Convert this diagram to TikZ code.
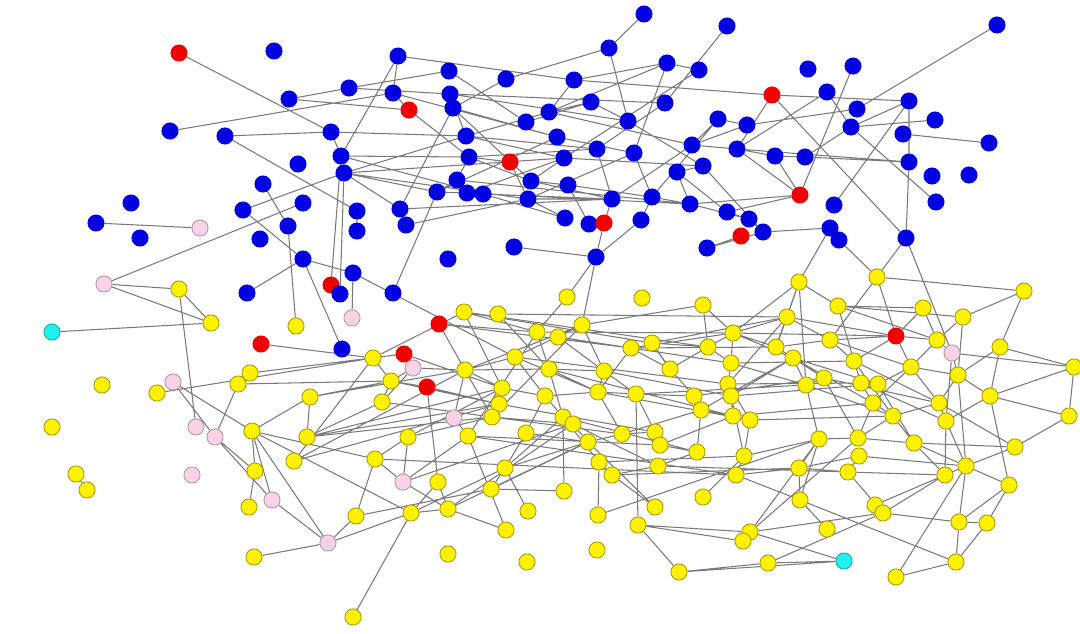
\documentclass[tikz,border=0pt]{standalone}
\usepackage{xcolor}
\usepackage{tikz}
\usetikzlibrary{backgrounds}
\definecolor{blueNode}{HTML}{0000E0}
\definecolor{redNode}{HTML}{F00000}
\definecolor{yellowNode}{HTML}{FFF200}
\definecolor{yellowEdge}{HTML}{A89A00}
\definecolor{pinkNode}{HTML}{F9D2E8}
\definecolor{pinkEdge}{HTML}{A89AA2}
\definecolor{cyanNode}{HTML}{20F0F0}
\definecolor{linkGray}{HTML}{7A7A7A}
\tikzset{net-node/.style={draw,circle,inner sep=0pt,minimum size=4.6pt,line width=0.25pt}}
\tikzset{blue-node/.style={net-node,draw=blueNode,fill=blueNode}}
\tikzset{red-node/.style={net-node,draw=redNode,fill=redNode}}
\tikzset{yellow-node/.style={net-node,draw=yellowEdge,fill=yellowNode}}
\tikzset{pink-node/.style={net-node,draw=pinkEdge,fill=pinkNode}}
\tikzset{cyan-node/.style={net-node,draw=cyanNode!70!black,fill=cyanNode}}
\tikzset{net-edge/.style={draw=linkGray,line width=0.3pt}}

\begin{document}
\begin{tikzpicture}[x=0.1mm,y=-0.1mm]
    \useasboundingbox (0,0) rectangle (1080,633);

    \node [blue-node] (b1) at (644,14) {};
    \node [blue-node] (b2) at (727,26) {};
    \node [blue-node] (b3) at (997,25) {};
    \node [blue-node] (b4) at (274,51) {};
    \node [red-node]  (r1) at (179,53) {};
    \node [blue-node] (b5) at (398,56) {};
    \node [blue-node] (b6) at (609,48) {};
    \node [blue-node] (b7) at (449,71) {};
    \node [blue-node] (b8) at (506,79) {};
    \node [blue-node] (b9) at (574,80) {};
    \node [blue-node] (b10) at (667,63) {};
    \node [blue-node] (b11) at (699,70) {};
    \node [blue-node] (b12) at (808,69) {};
    \node [blue-node] (b13) at (853,66) {};
    \node [blue-node] (b14) at (349,88) {};
    \node [blue-node] (b15) at (289,99) {};
    \node [blue-node] (b16) at (393,93) {};
    \node [blue-node] (b17) at (450,94) {};
    \node [blue-node] (b18) at (591,102) {};
    \node [blue-node] (b19) at (665,103) {};
    \node [red-node]  (r2) at (772,95) {};
    \node [blue-node] (b20) at (827,92) {};
    \node [blue-node] (b21) at (909,101) {};
    \node [blue-node] (b22) at (857,109) {};
    \node [red-node]  (r3) at (409,110) {};
    \node [blue-node] (b23) at (453,108) {};
    \node [blue-node] (b24) at (549,112) {};
    \node [blue-node] (b25) at (526,122) {};
    \node [blue-node] (b26) at (628,121) {};
    \node [blue-node] (b27) at (718,119) {};
    \node [blue-node] (b28) at (747,125) {};
    \node [blue-node] (b29) at (851,127) {};
    \node [blue-node] (b30) at (903,134) {};
    \node [blue-node] (b31) at (935,120) {};
    \node [blue-node] (b32) at (170,131) {};
    \node [blue-node] (b33) at (225,136) {};
    \node [blue-node] (b34) at (331,132) {};
    \node [blue-node] (b35) at (466,136) {};
    \node [blue-node] (b36) at (557,137) {};
    \node [blue-node] (b37) at (597,149) {};
    \node [blue-node] (b38) at (634,153) {};
    \node [blue-node] (b39) at (692,145) {};
    \node [blue-node] (b40) at (737,149) {};
    \node [blue-node] (b41) at (775,156) {};
    \node [blue-node] (b42) at (805,157) {};
    \node [blue-node] (b43) at (989,143) {};
    \node [blue-node] (b44) at (341,156) {};
    \node [blue-node] (b45) at (469,157) {};
    \node [red-node]  (r4) at (510,162) {};
    \node [blue-node] (b46) at (564,158) {};
    \node [blue-node] (b47) at (703,166) {};
    \node [blue-node] (b48) at (909,162) {};
    \node [blue-node] (b49) at (298,164) {};
    \node [blue-node] (b50) at (344,173) {};
    \node [blue-node] (b51) at (457,180) {};
    \node [blue-node] (b52) at (531,181) {};
    \node [blue-node] (b53) at (568,185) {};
    \node [blue-node] (b54) at (677,172) {};
    \node [blue-node] (b55) at (932,176) {};
    \node [blue-node] (b56) at (969,175) {};
    \node [blue-node] (b57) at (263,184) {};
    \node [blue-node] (b58) at (437,192) {};
    \node [blue-node] (b59) at (467,193) {};
    \node [blue-node] (b60) at (483,194) {};
    \node [blue-node] (b61) at (528,199) {};
    \node [blue-node] (b62) at (612,199) {};
    \node [blue-node] (b63) at (652,197) {};
    \node [blue-node] (b64) at (690,204) {};
    \node [red-node]  (r5) at (800,195) {};
    \node [blue-node] (b65) at (834,205) {};
    \node [blue-node] (b66) at (936,202) {};
    \node [blue-node] (b67) at (131,203) {};
    \node [blue-node] (b68) at (243,210) {};
    \node [blue-node] (b69) at (303,203) {};
    \node [blue-node] (b70) at (357,211) {};
    \node [blue-node] (b71) at (400,209) {};
    \node [blue-node] (b72) at (406,225) {};
    \node [blue-node] (b73) at (565,218) {};
    \node [blue-node] (b74) at (589,224) {};
    \node [red-node]  (r6) at (604,223) {};
    \node [blue-node] (b75) at (641,220) {};
    \node [blue-node] (b76) at (727,212) {};
    \node [blue-node] (b77) at (749,219) {};
    \node [blue-node] (b78) at (763,232) {};
    \node [red-node]  (r7) at (741,236) {};
    \node [blue-node] (b79) at (830,228) {};
    \node [blue-node] (b80) at (839,240) {};
    \node [blue-node] (b81) at (906,238) {};
    \node [blue-node] (b82) at (96,223) {};
    \node [blue-node] (b83) at (140,238) {};
    \node [pink-node] (p1) at (200,228) {};
    \node [blue-node] (b84) at (260,239) {};
    \node [blue-node] (b85) at (288,226) {};
    \node [blue-node] (b86) at (357,231) {};
    \node [blue-node] (b87) at (514,247) {};
    \node [blue-node] (b88) at (707,248) {};
    \node [blue-node] (b89) at (596,257) {};
    \node [blue-node] (b90) at (448,259) {};
    \node [blue-node] (b91) at (303,259) {};
    \node [blue-node] (b92) at (353,273) {};
    \node [red-node]  (r8) at (331,285) {};
    \node [blue-node] (b93) at (247,293) {};
    \node [blue-node] (b94) at (340,294) {};
    \node [blue-node] (b95) at (393,293) {};
    \node [blue-node] (b96) at (342,349) {};

    \node [pink-node] (p2) at (104,284) {};
    \node [cyan-node] (c1) at (52,332) {};
    \node [pink-node] (p3) at (352,318) {};
    \node [red-node]  (r9) at (261,344) {};
    \node [red-node]  (r10) at (439,324) {};
    \node [red-node]  (r11) at (404,354) {};
    \node [pink-node] (p4) at (413,368) {};
    \node [red-node]  (r12) at (427,387) {};
    \node [pink-node] (p5) at (173,382) {};
    \node [pink-node] (p6) at (196,427) {};
    \node [pink-node] (p7) at (215,437) {};
    \node [pink-node] (p8) at (454,418) {};
    \node [pink-node] (p9) at (192,475) {};
    \node [pink-node] (p10) at (272,500) {};
    \node [pink-node] (p11) at (328,543) {};
    \node [pink-node] (p12) at (403,482) {};
    \node [pink-node] (p13) at (952,353) {};
    \node [red-node]  (r13) at (896,336) {};
    \node [cyan-node] (c2) at (844,561) {};

    \node [yellow-node] (y1) at (179,289) {};
    \node [yellow-node] (y2) at (211,323) {};
    \node [yellow-node] (y3) at (296,326) {};
    \node [yellow-node] (y4) at (102,385) {};
    \node [yellow-node] (y5) at (157,393) {};
    \node [yellow-node] (y6) at (238,384) {};
    \node [yellow-node] (y7) at (250,373) {};
    \node [yellow-node] (y8) at (373,358) {};
    \node [yellow-node] (y9) at (391,381) {};
    \node [yellow-node] (y10) at (382,402) {};
    \node [yellow-node] (y11) at (310,397) {};
    \node [yellow-node] (y12) at (52,427) {};
    \node [yellow-node] (y13) at (252,431) {};
    \node [yellow-node] (y14) at (307,437) {};
    \node [yellow-node] (y15) at (294,461) {};
    \node [yellow-node] (y16) at (375,459) {};
    \node [yellow-node] (y17) at (408,437) {};
    \node [yellow-node] (y18) at (76,474) {};
    \node [yellow-node] (y19) at (87,490) {};
    \node [yellow-node] (y20) at (255,471) {};
    \node [yellow-node] (y21) at (249,507) {};
    \node [yellow-node] (y22) at (254,557) {};
    \node [yellow-node] (y23) at (356,516) {};
    \node [yellow-node] (y24) at (353,617) {};
    \node [yellow-node] (y25) at (411,513) {};
    \node [yellow-node] (y26) at (438,482) {};
    \node [yellow-node] (y27) at (448,509) {};
    \node [yellow-node] (y28) at (448,554) {};
    \node [yellow-node] (y29) at (527,562) {};
    \node [yellow-node] (y30) at (597,550) {};
    \node [yellow-node] (y31) at (567,297) {};
    \node [yellow-node] (y32) at (642,298) {};
    \node [yellow-node] (y33) at (703,305) {};
    \node [yellow-node] (y34) at (464,312) {};
    \node [yellow-node] (y35) at (498,314) {};
    \node [yellow-node] (y36) at (537,332) {};
    \node [yellow-node] (y37) at (558,337) {};
    \node [yellow-node] (y38) at (582,325) {};
    \node [yellow-node] (y39) at (631,348) {};
    \node [yellow-node] (y40) at (652,343) {};
    \node [yellow-node] (y41) at (708,347) {};
    \node [yellow-node] (y42) at (465,370) {};
    \node [yellow-node] (y43) at (515,357) {};
    \node [yellow-node] (y44) at (549,369) {};
    \node [yellow-node] (y45) at (604,371) {};
    \node [yellow-node] (y46) at (670,369) {};
    \node [yellow-node] (y47) at (502,388) {};
    \node [yellow-node] (y48) at (545,396) {};
    \node [yellow-node] (y49) at (598,392) {};
    \node [yellow-node] (y50) at (636,394) {};
    \node [yellow-node] (y51) at (694,396) {};
    \node [yellow-node] (y52) at (701,410) {};
    \node [yellow-node] (y53) at (499,404) {};
    \node [yellow-node] (y54) at (492,417) {};
    \node [yellow-node] (y55) at (563,417) {};
    \node [yellow-node] (y56) at (573,424) {};
    \node [yellow-node] (y57) at (799,282) {};
    \node [yellow-node] (y58) at (877,277) {};
    \node [yellow-node] (y59) at (1024,291) {};
    \node [yellow-node] (y60) at (838,306) {};
    \node [yellow-node] (y61) at (923,308) {};
    \node [yellow-node] (y62) at (787,317) {};
    \node [yellow-node] (y63) at (963,317) {};
    \node [yellow-node] (y64) at (733,333) {};
    \node [yellow-node] (y65) at (937,340) {};
    \node [yellow-node] (y66) at (1000,347) {};
    \node [yellow-node] (y67) at (776,347) {};
    \node [yellow-node] (y68) at (830,340) {};
    \node [yellow-node] (y69) at (793,358) {};
    \node [yellow-node] (y70) at (731,363) {};
    \node [yellow-node] (y71) at (854,361) {};
    \node [yellow-node] (y72) at (911,367) {};
    \node [yellow-node] (y73) at (1074,367) {};
    \node [yellow-node] (y74) at (958,375) {};
    \node [yellow-node] (y75) at (728,384) {};
    \node [yellow-node] (y76) at (731,396) {};
    \node [yellow-node] (y77) at (806,385) {};
    \node [yellow-node] (y78) at (824,378) {};
    \node [yellow-node] (y79) at (861,383) {};
    \node [yellow-node] (y80) at (878,384) {};
    \node [yellow-node] (y81) at (990,396) {};
    \node [yellow-node] (y82) at (873,403) {};
    \node [yellow-node] (y83) at (939,403) {};
    \node [yellow-node] (y84) at (733,416) {};
    \node [yellow-node] (y85) at (750,420) {};
    \node [yellow-node] (y86) at (893,416) {};
    \node [yellow-node] (y87) at (946,421) {};
    \node [yellow-node] (y88) at (1069,416) {};
    \node [yellow-node] (y89) at (468,436) {};
    \node [yellow-node] (y90) at (526,433) {};
    \node [yellow-node] (y91) at (505,468) {};
    \node [yellow-node] (y92) at (491,489) {};
    \node [yellow-node] (y93) at (564,491) {};
    \node [yellow-node] (y94) at (588,442) {};
    \node [yellow-node] (y95) at (622,434) {};
    \node [yellow-node] (y96) at (655,432) {};
    \node [yellow-node] (y97) at (660,445) {};
    \node [yellow-node] (y98) at (697,452) {};
    \node [yellow-node] (y99) at (599,462) {};
    \node [yellow-node] (y100) at (612,475) {};
    \node [yellow-node] (y101) at (658,466) {};
    \node [yellow-node] (y102) at (703,497) {};
    \node [yellow-node] (y103) at (528,511) {};
    \node [yellow-node] (y104) at (598,515) {};
    \node [yellow-node] (y105) at (655,507) {};
    \node [yellow-node] (y106) at (506,530) {};
    \node [yellow-node] (y107) at (638,525) {};
    \node [yellow-node] (y108) at (679,572) {};
    \node [yellow-node] (y109) at (819,439) {};
    \node [yellow-node] (y110) at (858,438) {};
    \node [yellow-node] (y111) at (859,456) {};
    \node [yellow-node] (y112) at (914,443) {};
    \node [yellow-node] (y113) at (1015,447) {};
    \node [yellow-node] (y114) at (744,456) {};
    \node [yellow-node] (y115) at (736,475) {};
    \node [yellow-node] (y116) at (799,468) {};
    \node [yellow-node] (y117) at (848,472) {};
    \node [yellow-node] (y118) at (945,475) {};
    \node [yellow-node] (y119) at (966,466) {};
    \node [yellow-node] (y120) at (1009,485) {};
    \node [yellow-node] (y121) at (800,500) {};
    \node [yellow-node] (y122) at (875,505) {};
    \node [yellow-node] (y123) at (883,513) {};
    \node [yellow-node] (y124) at (959,522) {};
    \node [yellow-node] (y125) at (987,523) {};
    \node [yellow-node] (y126) at (827,529) {};
    \node [yellow-node] (y127) at (750,532) {};
    \node [yellow-node] (y128) at (743,541) {};
    \node [yellow-node] (y129) at (768,563) {};
    \node [yellow-node] (y130) at (956,562) {};
    \node [yellow-node] (y131) at (896,577) {};

    \begin{scope}[on background layer]
        \draw [net-edge]
            (r1) -- (b34) -- (b33) -- (b70) -- (b86)
            (b15) -- (b14) -- (b7) -- (b25) -- (b18) -- (b24) -- (b9) -- (b5) -- (b44) -- (b34) -- (b35) -- (b50) -- (b94)
            (b15) -- (r3) -- (b16) -- (b32)
            (b44) -- (b45) (b44) -- (r8) (b44) -- (b60)
            (b50) -- (b58) -- (b51) -- (b45) -- (r4) -- (b61) -- (b62) -- (b60) -- (b59) -- (b58) -- (b36) -- (b23) -- (b8) -- (b6) -- (b1)
            (b50) -- (b46) -- (b35) -- (b37) -- (b45) -- (r3)
            (b68) -- (b50) -- (b71) -- (b23) -- (b52) -- (b46) -- (b11) -- (b10) -- (b9) -- (r2) -- (b21) -- (b29) -- (b31)
            (b50) -- (b61) -- (b73) (b59) -- (b46) -- (b47) -- (b54) -- (b64) -- (b63) -- (b38) -- (b10) -- (b24) -- (b39) -- (b27) -- (b28) -- (b22) -- (b3)
            (b57) -- (b85) -- (y3) (b68) -- (b91) -- (b96) (b91) -- (b93) (b91) -- (b92) -- (p3)
            (b69) -- (p2) (b82) -- (p1) (b72) -- (b61) (b16) -- (b36) -- (b38) -- (b61)
            (b17) -- (b19) -- (b2) (b17) -- (b35) (b6) -- (b26) -- (b47) -- (b78) -- (b77) -- (b76) -- (r5) -- (b13)
            (b18) -- (b26) (b19) -- (b37) -- (b62) -- (b39) -- (b40) -- (b41) -- (b42) -- (b48) -- (b21) -- (b65)
            (b27) -- (b63) -- (b53) -- (b52) -- (b62) (b53) -- (b74)
            (r2) -- (b40) -- (r5) -- (b64) -- (b51) (r2) -- (b81) -- (b48) -- (b40) -- (b20) -- (b29) -- (b66)
            (b41) -- (r5) (b30) -- (b43) (b54) -- (b76) (b62) -- (r6) -- (b89) -- (b87) (b63) -- (b75) -- (b89)
            (b64) -- (b77) (b78) -- (b79) -- (y57) (b78) -- (b88) (b80) -- (y58) -- (b81) -- (p13)
            (b95) -- (b58) (b71) -- (b62) (b92) -- (y43) (b89) -- (y31) (b89) -- (y38)
            (b14) -- (b17) -- (b26) (b5) -- (b16) (b45) -- (b52) (b59) -- (b64) (b60) -- (b73) (r7) -- (b88)
            (b39) -- (b28) (b42) -- (b29) (b35) -- (b24);
        \draw [net-edge]
            (p2) -- (y1) -- (y2) -- (p2) (c1) -- (y2) (y1) -- (p6)
            (r9) -- (y8) (y7) -- (r11) (y5) -- (y8) (y6) -- (y9) (p5) -- (p7) (p5) -- (y13) (y6) -- (p7)
            (y11) -- (y9) (y11) -- (y14) (y11) -- (y42) (y15) -- (y8) (y15) -- (y42) (y14) -- (y47) (y14) -- (y53) (y13) -- (y11)
            (p7) -- (y20) -- (y21) (p7) -- (p10) -- (p11) -- (y22) (y13) -- (y20) (y13) -- (p10) (y13) -- (p11) -- (y23)
            (y13) -- (y16) (y13) -- (y25) (y18) -- (y19) (p11) -- (y25) -- (y24)
            (y17) -- (p12) -- (y16) -- (y17) (y16) -- (y115) (y16) -- (y23) (p12) -- (y27) (p12) -- (y89) (p12) -- (y56)
            (r12) -- (y26) -- (y27) -- (y25) -- (y26) (y25) -- (y91) (y27) -- (y106) (y27) -- (y94) (y27) -- (y56)
            (y91) -- (y103) (y91) -- (y90) (y91) -- (y92) -- (y93) -- (y55) -- (y91) (y92) -- (y23)
            (y104) -- (y99) -- (y100) -- (y105) -- (y94) (y104) -- (y109) (y107) -- (y50) (y107) -- (y108) -- (y129) -- (c2) -- (y127) -- (y107) -- (y128)
            (y102) -- (y114) (y89) -- (y106) (y89) -- (y115) (y108) -- (c2) (y129) -- (y123) -- (y127) -- (y109) -- (y116) -- (y121) -- (y126)
            (y127) -- (y110) (y121) -- (y130) -- (y131) -- (y119) -- (y113) -- (y88) (y121) -- (y115) (y121) -- (y109)
            (y117) -- (y111) (y118) -- (y112) -- (y113) (y118) -- (y123) -- (y124) (y119) -- (y120) -- (y124) -- (y119) -- (y122)
            (y120) -- (y125) -- (y124) -- (y130) -- (y125)
            (y57) -- (y62) (y57) -- (y60) (y57) -- (y77) (y57) -- (y67) (y58) -- (y59) -- (y66) (y58) -- (r13) (y58) -- (y68)
            (y59) -- (y63) -- (y60) -- (y61) (r13) -- (y62) (r13) -- (y64) (r13) -- (y65) -- (p13) (r13) -- (y72) (r13) -- (y68)
            (y66) -- (y73) -- (p13) -- (y74) -- (y66) (p13) -- (y87) (y63) -- (y74) (y71) -- (r13) (y72) -- (y74) (y73) -- (y88) -- (y81) -- (y74) -- (y83) (y64) -- (y62)
            (y31) -- (y36) (y38) -- (y33) -- (y41) (y38) -- (y37) (y38) -- (y43) (y38) -- (y42) (y38) -- (y45) (y38) -- (y54)
            (y34) -- (y36) (y34) -- (y47) (y34) -- (y40) (y35) -- (y44) (r10) -- (y42) (r10) -- (y36) (y43) -- (y42) (y43) -- (y48) (y44) -- (y36) -- (y89)
            (y45) -- (y49) (y46) -- (y39) (y46) -- (y51) (y46) -- (y40) (y34) -- (y8) -- (y9);
        \draw [net-edge]
            (r11) -- (y47) (r11) -- (p4) -- (y42) (p4) -- (y10) -- (y9) -- (p4) (y9) -- (y53) (y10) -- (y54) (y10) -- (y14) -- (y54)
            (y15) -- (y53) (y17) -- (y54) (y17) -- (y47) -- (y42) -- (y44) -- (y49) (y44) -- (y45) (y47) -- (y53) (y47) -- (y48) -- (y55)
            (y48) -- (y49) -- (y50) -- (y51) -- (y52) (y53) -- (y54) -- (y56) -- (y55) (y56) -- (y94) -- (y95) -- (y96) -- (y97) -- (y98)
            (y55) -- (y99) (y100) -- (y101) -- (y98) -- (y52) -- (y84) -- (y85) -- (y114) -- (y115) (y76) -- (y84) (y75) -- (y76)
            (y70) -- (y75) (y64) -- (y70) (y67) -- (y69) -- (y76) (y68) -- (y71) -- (y79) -- (y80) -- (y72) (y78) -- (y77) -- (y69)
            (y82) -- (y86) -- (y83) -- (y87) -- (y118) (y82) -- (y110) -- (y109) (y112) -- (y86)
            (y36) -- (y64) (y37) -- (y70) (y39) -- (y67) (y40) -- (y62) (y41) -- (y64) (y43) -- (y75) (y45) -- (y76) (y34) -- (y41)
            (r10) -- (y39) (y35) -- (y62) (y44) -- (y84) (y49) -- (y85) (y50) -- (y77) (y52) -- (y69) (y51) -- (y78) (y53) -- (y96)
            (y54) -- (y95) (y89) -- (y97) (y90) -- (y94) (y55) -- (y98) (y56) -- (y101) (y99) -- (y114) (y100) -- (y116) (y101) -- (y117)
            (y84) -- (y82) (y85) -- (y86) (y75) -- (y79) (y76) -- (y80) (y70) -- (y71) (y69) -- (y82) (y67) -- (y68) (y62) -- (y68)
            (y64) -- (y67) (y60) -- (y65) (y72) -- (y83) (y71) -- (y86) (y79) -- (y87) (y80) -- (y112) (y78) -- (y83) (y77) -- (y109)
            (y114) -- (y109) (y115) -- (y116) -- (y117) -- (y118) (y111) -- (y119) (y110) -- (y112) (y119) -- (y87) (y66) -- (y81)
            (y73) -- (y81) -- (y120) (y83) -- (y113) (y74) -- (y119) (r12) -- (y53) (r12) -- (y9) (p8) -- (y42) (p8) -- (y89)
            (r13) -- (y61) -- (y65) -- (y63) (y37) -- (y45) (y62) -- (y67) (y41) -- (y46) (y39) -- (y49) (y40) -- (y41)
            (y33) -- (y64) (y41) -- (y70) (y65) -- (y72) -- (y82) -- (y79) (y86) -- (y110) (y96) -- (y50) (y95) -- (y49)
            (y92) -- (y94) -- (y91)
            (y62) -- (y75) (y64) -- (y69) (y70) -- (y77) (y75) -- (y85) (y76) -- (y114) (y84) -- (y97) (y52) -- (y95)
            (y69) -- (y80) (y77) -- (y86) (y78) -- (y110) (y71) -- (y83) (y68) -- (y72) (y67) -- (y78) (y60) -- (y71)
            (y43) -- (y49) (y44) -- (y55) (y45) -- (y50) (y48) -- (y90) (y42) -- (y54) (y40) -- (y46) (y39) -- (y64)
            (y57) -- (y64) (y81) -- (y87) (y112) -- (y119) (y117) -- (y123) (y116) -- (y111);
    \end{scope}
\end{tikzpicture}
\end{document}
